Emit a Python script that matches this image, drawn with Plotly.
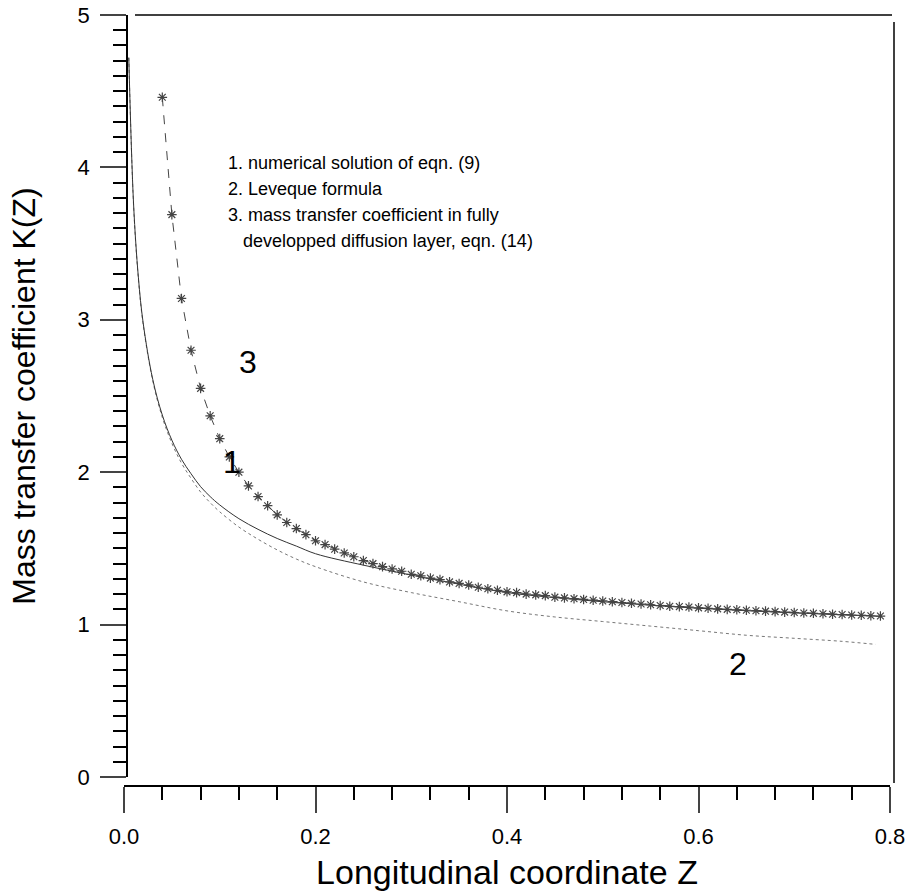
import plotly.graph_objects as go

# curve 1: numerical solution of eqn. (9)
z_num = [0.005, 0.01, 0.015, 0.02, 0.03, 0.04, 0.05, 0.06, 0.07, 0.08, 0.09, 0.10,
         0.12, 0.14, 0.16, 0.18, 0.20, 0.25, 0.30, 0.35, 0.40, 0.45, 0.50, 0.55,
         0.60, 0.65, 0.70, 0.75, 0.79]
k_num = [4.72, 3.76, 3.28, 2.98, 2.61, 2.375, 2.21, 2.085, 1.99, 1.905, 1.84, 1.785,
         1.695, 1.625, 1.565, 1.515, 1.465, 1.39, 1.325, 1.265, 1.21, 1.177, 1.15, 1.127,
         1.107, 1.091, 1.077, 1.064, 1.054]

# curve 2: Leveque formula
z_lev = [0.005, 0.01, 0.015, 0.02, 0.03, 0.04, 0.05, 0.06, 0.07, 0.08, 0.09, 0.10,
         0.12, 0.14, 0.16, 0.18, 0.20, 0.25, 0.30, 0.35, 0.40, 0.45, 0.50, 0.55,
         0.60, 0.65, 0.70, 0.75, 0.785]
k_lev = [4.72, 3.75, 3.27, 2.97, 2.60, 2.36, 2.19, 2.06, 1.96, 1.87, 1.80, 1.74,
         1.64, 1.56, 1.49, 1.43, 1.38, 1.28, 1.21, 1.15, 1.09, 1.05, 1.02, 0.99,
         0.96, 0.93, 0.91, 0.89, 0.87]

# curve 3: fully developed diffusion layer, eqn. (14)
z_dev = [0.04, 0.05, 0.06, 0.07, 0.08, 0.09, 0.10, 0.11, 0.12, 0.13, 0.14, 0.15,
         0.16, 0.17, 0.18, 0.19, 0.20, 0.21, 0.22, 0.23, 0.24, 0.25, 0.26, 0.27,
         0.28, 0.29, 0.30, 0.31, 0.32, 0.33, 0.34, 0.35, 0.36, 0.37, 0.38, 0.39,
         0.40, 0.41, 0.42, 0.43, 0.44, 0.45, 0.46, 0.47, 0.48, 0.49, 0.50, 0.51,
         0.52, 0.53, 0.54, 0.55, 0.56, 0.57, 0.58, 0.59, 0.60, 0.61, 0.62, 0.63,
         0.64, 0.65, 0.66, 0.67, 0.68, 0.69, 0.70, 0.71, 0.72, 0.73, 0.74, 0.75,
         0.76, 0.77, 0.78, 0.79]
k_dev = [4.46, 3.69, 3.14, 2.80, 2.55, 2.37, 2.22, 2.10, 2.00, 1.91, 1.84, 1.78,
         1.72, 1.67, 1.63, 1.59, 1.55, 1.525, 1.495, 1.47, 1.445, 1.42, 1.40, 1.38,
         1.365, 1.35, 1.33, 1.32, 1.305, 1.295, 1.28, 1.27, 1.26, 1.245, 1.235, 1.225,
         1.215, 1.21, 1.20, 1.195, 1.19, 1.18, 1.175, 1.17, 1.165, 1.16, 1.155, 1.15,
         1.145, 1.14, 1.135, 1.13, 1.125, 1.12, 1.118, 1.115, 1.11, 1.107, 1.103, 1.10,
         1.097, 1.094, 1.091, 1.088, 1.085, 1.082, 1.079, 1.076, 1.074, 1.071, 1.068, 1.066,
         1.063, 1.061, 1.058, 1.056]

legend_lines = [
    "1. numerical solution of eqn. (9)",
    "2. Leveque formula",
    "3. mass transfer coefficient in fully",
    "\u00a0\u00a0\u00a0developped diffusion layer, eqn. (14)",
]
legend_y = [4.03, 3.86, 3.69, 3.52]
curve_labels = [("1", 0.113, 2.07), ("3", 0.1295, 2.72), ("2", 0.641, 0.74)]

FONT = "Liberation Sans, Arial, sans-serif"

fig = go.Figure()
fig.add_trace(go.Scatter(
    x=z_lev, y=k_lev, mode="lines", line=dict(color="#777", width=1, dash="dot"),
    line_shape="spline",
))
fig.add_trace(go.Scatter(
    x=z_num, y=k_num, mode="lines", line=dict(color="#333", width=1),
    line_shape="spline",
))
fig.add_trace(go.Scatter(
    x=z_dev, y=k_dev, mode="lines+markers",
    line=dict(color="#444", width=1, dash="dash"),
    marker=dict(symbol="asterisk-open", size=8, line=dict(color="#111", width=1.2)),
))

for txt, x, y in curve_labels:
    fig.add_annotation(x=x, y=y, text=txt, showarrow=False,
                       font=dict(size=32, family=FONT, color="black"))

for line, y in zip(legend_lines, legend_y):
    fig.add_annotation(
        x=0.1097, y=y, xanchor="left", yanchor="middle", align="left",
        text=line, showarrow=False, xshift=-3,
        font=dict(size=18, family=FONT, color="black"),
    )

# open frame lines on top and right
fig.add_shape(type="line", xref="paper", yref="paper", x0=0.0143, x1=0.9974, y0=1, y1=1,
              line=dict(color="black", width=1.5))
fig.add_shape(type="line", xref="paper", yref="paper", x0=1, x1=1, y0=0.0039, y1=0.991,
              line=dict(color="black", width=1.5))

fig.update_layout(
    width=906, height=891,
    margin=dict(l=124, r=12, t=15, b=105),
    plot_bgcolor="white", paper_bgcolor="white",
    showlegend=False,
    font=dict(family=FONT, color="black"),
    xaxis=dict(
        domain=[0, 0.9948], range=[0, 0.8], anchor="free", position=0, automargin=False,
        dtick=0.2, tickformat=".1f", ticks="outside", ticklen=26, tickwidth=1.5,
        minor=dict(dtick=0.04, ticks="outside", ticklen=13, tickwidth=1.5, tickcolor="black"),
        showline=True, linecolor="black", linewidth=1.5, showgrid=False, zeroline=False,
        tickfont=dict(size=22), ticklabelstandoff=5, ticklabeloverflow="allow",
        title=dict(text="Longitudinal coordinate Z", font=dict(size=34), standoff=13),
    ),
    yaxis=dict(
        domain=[0.0117, 1], range=[0, 5], anchor="free", position=0.0039, automargin=False,
        dtick=1, ticks="outside", ticklen=26, tickwidth=1.5,
        minor=dict(dtick=0.1, ticks="outside", ticklen=13, tickwidth=1.5, tickcolor="black"),
        showline=True, linecolor="black", linewidth=1.5, showgrid=False, zeroline=False,
        tickfont=dict(size=22), ticklabelstandoff=6, ticklabeloverflow="allow",
        title=dict(text="Mass transfer coefficient K(Z)", font=dict(size=32), standoff=31),
    ),
)

# drop the default body margin so the figure fills the window exactly
fig.write_html(
    "out.html",
    config={"displayModeBar": False},
    post_script="document.body.style.margin='0';"
                "document.documentElement.style.overflow='hidden';",
)
